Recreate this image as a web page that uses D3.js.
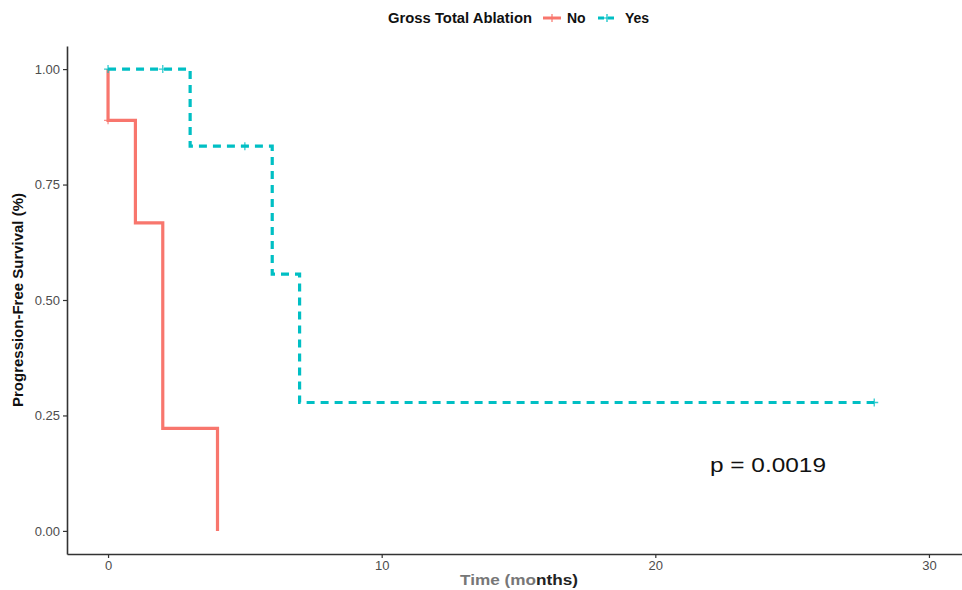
<!DOCTYPE html>
<html><head><meta charset="utf-8">
<script src="https://cdn.jsdelivr.net/npm/d3@7"></script>
<style>body{margin:0;background:#fff;} svg{display:block;}</style>
</head><body>
<svg id="c" width="962" height="590"></svg>
<script>
// Data
const groups = ["No", "Yes"];
const noTimes = [0, 0, 1, 2, 4];
const noSurv = [1, 0.889, 0.667, 0.222, 0];
const yesTimes = [0, 3, 6, 7, 28];
const yesSurv = [1, 0.833, 0.556, 0.278, 0.278];
const noCensorTimes = [0];
const noCensorSurv = [0.889];
const yesCensorTimes = [0, 2, 5, 28];
const yesCensorSurv = [1, 1, 0.833, 0.278];
const xTicks = [0, 10, 20, 30];
const yTicks = [0, 0.25, 0.5, 0.75, 1];
const pText = "p = 0.0019";

const lf = "Liberation Sans, Arial, sans-serif";
const colors = {No: "#F8766D", Yes: "#00BFC4"};
const svg = d3.select("#c");
const x = d3.scaleLinear().domain([-1.5, 31.5]).range([67, 970]);
const y = d3.scaleLinear().domain([-0.05, 1.05]).range([554, 46]);

function stepPts(ts, ss) {
  const pts = [];
  for (let i = 0; i < ts.length; i++) {
    if (i > 0) pts.push([ts[i], ss[i - 1]]);
    pts.push([ts[i], ss[i]]);
  }
  return pts;
}
const line = d3.line().x(d => x(d[0])).y(d => y(d[1]));

// axes
const gx = svg.append("g").attr("transform", `translate(0,${y(-0.05)})`)
  .call(d3.axisBottom(x).tickValues(xTicks).tickSize(4).tickSizeOuter(0).tickPadding(3));
const gy = svg.append("g").attr("transform", `translate(${x(-1.5)},0)`)
  .call(d3.axisLeft(y).tickValues(yTicks).tickSize(4).tickSizeOuter(0).tickPadding(3).tickFormat(d3.format(".2f")));
[gx, gy].forEach(g => {
  g.select(".domain").attr("stroke", "#333").attr("stroke-width", 1.6);
  g.selectAll(".tick line").attr("stroke", "#333").attr("stroke-width", 1.2);
  g.selectAll(".tick text").attr("fill", "#4d4d4d").style("font-family", lf).style("font-size", "13px");
});

// curves
svg.append("path").attr("d", line(stepPts(noTimes, noSurv)))
  .attr("fill", "none").attr("stroke", colors.No).attr("stroke-width", 3.2);
svg.append("path").attr("d", line(stepPts(yesTimes, yesSurv)))
  .attr("fill", "none").attr("stroke", colors.Yes).attr("stroke-width", 3.2)
  .attr("stroke-dasharray", "8,6");

function censor(ts, ss, col) {
  ts.forEach((t, i) => {
    const cx = x(t), cy = y(ss[i]);
    svg.append("path").attr("d", `M${cx - 4},${cy}H${cx + 4}M${cx},${cy - 4}V${cy + 4}`)
      .attr("stroke", col).attr("stroke-width", 1.3).attr("opacity", 0.8);
  });
}
censor(noCensorTimes, noCensorSurv, colors.No);
censor(yesCensorTimes, yesCensorSurv, colors.Yes);

// p-value
svg.append("text").attr("x", 710).attr("y", 472).text(pText)
  .attr("textLength", 116).attr("lengthAdjust", "spacingAndGlyphs")
  .style("font-family", lf).style("font-size", "21px").attr("fill", "#111");

// axis titles
svg.append("text").attr("transform", `translate(23,${y(0.5)}) rotate(-90)`).attr("text-anchor", "middle")
  .attr("textLength", 214).attr("lengthAdjust", "spacingAndGlyphs")
  .text("Progression-Free Survival (%)")
  .style("font-family", lf).style("font-size", "15px").style("font-weight", "bold").attr("fill", "#111");
const xt = svg.append("text").attr("x", 460).attr("y", 585)
  .attr("textLength", 118).attr("lengthAdjust", "spacingAndGlyphs")
  .style("font-family", lf).style("font-size", "15px").style("font-weight", "bold");
xt.append("tspan").attr("fill", "#777").text("Time (mo");
xt.append("tspan").attr("fill", "#222").text("nths)");

// legend
svg.append("text").attr("x", 388).attr("y", 23).text("Gross Total Ablation")
  .attr("textLength", 144).attr("lengthAdjust", "spacingAndGlyphs")
  .style("font-family", lf).style("font-size", "14px").style("font-weight", "bold").attr("fill", "#111");
const legPos = {No: 543, Yes: 598};
const legLabelX = {No: 567, Yes: 625};
groups.forEach(g => {
  const lx = legPos[g];
  svg.append("line").attr("x1", lx).attr("x2", lx + 18).attr("y1", 18).attr("y2", 18)
    .attr("stroke", colors[g]).attr("stroke-width", 3)
    .attr("stroke-dasharray", g === "Yes" ? "6,4" : null);
  svg.append("path").attr("d", `M${lx + 5},18H${lx + 13}M${lx + 9},14V22`)
    .attr("stroke", colors[g]).attr("stroke-width", 1.2);
  svg.append("text").attr("x", legLabelX[g]).attr("y", 23).text(g)
    .style("font-family", lf).style("font-size", "14px").style("font-weight", "bold").attr("fill", "#111");
});
</script>
</body></html>
